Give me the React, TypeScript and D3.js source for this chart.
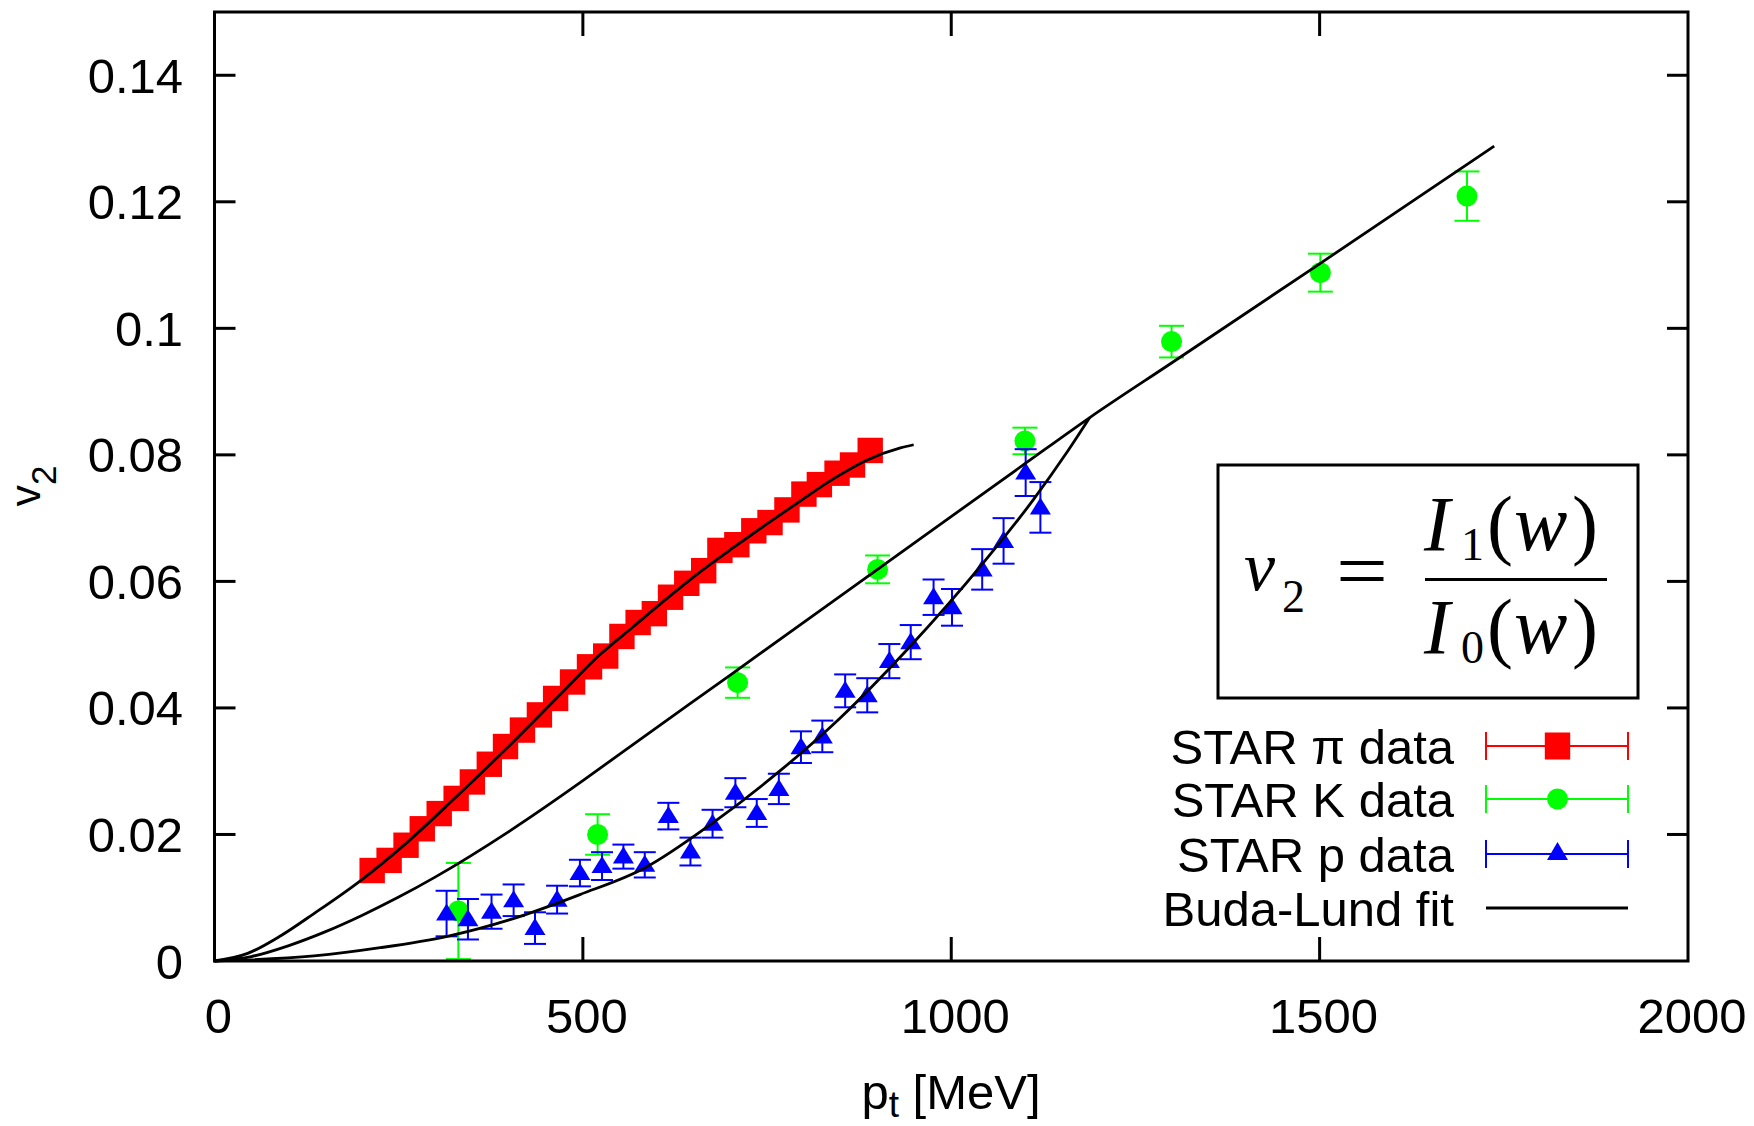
import React from "react";
import * as d3 from "d3";

// ---- data ----
const piPt = [214, 237, 260, 282, 305, 328, 350, 373, 395, 418, 441, 463, 486, 509, 531, 553, 575, 597, 619, 641, 664, 686, 709, 732, 754, 777, 800, 821, 845, 866, 890];
const piV = [0.0143, 0.0159, 0.0183, 0.0209, 0.0233, 0.0257, 0.0283, 0.0311, 0.0339, 0.0365, 0.0389, 0.0415, 0.0441, 0.0465, 0.0482, 0.0513, 0.0535, 0.0549, 0.0575, 0.0597, 0.0617, 0.0649, 0.0658, 0.068, 0.0693, 0.0713, 0.0738, 0.0753, 0.0771, 0.0784, 0.0807];

const kPt = [331, 520, 710, 900, 1100, 1299, 1501, 1700];
const kV = [0.0079, 0.02, 0.044, 0.0619, 0.0822, 0.0979, 0.1088, 0.1209];
const kErr = [0.0076, 0.0032, 0.0024, 0.0022, 0.0021, 0.0025, 0.003, 0.0039];

const pPt = [315, 344, 376, 406, 435, 465, 496, 526, 555, 584, 616, 646, 676, 707, 736, 766, 796, 825, 856, 886, 916, 945, 976, 1001, 1042, 1071, 1101, 1121];
const pV = [0.0075, 0.0066, 0.0078, 0.0096, 0.0052, 0.0097, 0.0139, 0.015, 0.0165, 0.0152, 0.0229, 0.0173, 0.0217, 0.0266, 0.0234, 0.0272, 0.0338, 0.0355, 0.0427, 0.042, 0.0474, 0.0504, 0.0575, 0.0559, 0.0619, 0.0664, 0.0772, 0.0717];
const pErr = [0.0036, 0.0032, 0.0027, 0.0025, 0.0025, 0.0022, 0.0021, 0.0022, 0.0019, 0.002, 0.0021, 0.0022, 0.0022, 0.0023, 0.0022, 0.0024, 0.0025, 0.0025, 0.0026, 0.0027, 0.0027, 0.0027, 0.0028, 0.0029, 0.0032, 0.0036, 0.0037, 0.004];

// Buda-Lund fit curves
const piFitPt = [0, 45, 90, 135, 197, 260, 325, 400, 470, 523, 568, 613, 658, 705, 750, 795, 840, 886, 931, 949];
const piFitV = [0, 0.0012, 0.004, 0.0075, 0.0126, 0.0186, 0.0256, 0.034, 0.0422, 0.0484, 0.0528, 0.0572, 0.0614, 0.0654, 0.0691, 0.0727, 0.0762, 0.0792, 0.0811, 0.0816];
const kFitPt = [0, 50, 100, 150, 200, 250, 300, 400, 500, 550, 700, 900, 1100, 1188, 1300, 1500, 1737];
const kFitV = [0, 0.0007, 0.0024, 0.0046, 0.0072, 0.0101, 0.0133, 0.0205, 0.0285, 0.0327, 0.0452, 0.0619, 0.0786, 0.0859, 0.0946, 0.1102, 0.1288];
const pFitPt = [0, 135, 225, 316, 400, 496, 584, 676, 767, 850, 940, 1044, 1112, 1157, 1188];
const pFitV = [0, 0.0008, 0.0021, 0.0039, 0.0065, 0.0105, 0.0147, 0.0218, 0.03, 0.0385, 0.0492, 0.063, 0.073, 0.0804, 0.0859];

const xTicks = [0, 500, 1000, 1500, 2000];
const yTicks = [0, 0.02, 0.04, 0.06, 0.08, 0.1, 0.12, 0.14];
const yTickLabels = ["0", "0.02", "0.04", "0.06", "0.08", "0.1", "0.12", "0.14"];
const legendLabels = ["STAR \u03c0 data", "STAR K data", "STAR p data", "Buda-Lund fit"];

const RED = "#ff0000";
const GREEN = "#00ff00";
const BLUE = "#0000ff";
const SANS = "'Liberation Sans', Arial, Helvetica, sans-serif";
const SERIF = "'Liberation Serif', 'Times New Roman', serif";

export default function App() {
  const L = 214.5, R = 1688, T = 12, B = 961;
  const x = d3.scaleLinear().domain([0, 2000]).range([L, R]);
  const y = d3.scaleLinear().domain([0, 0.15]).range([B, T]);
  const line = d3
    .line<[number, number]>()
    .x((d) => x(d[0]))
    .y((d) => y(d[1]))
    .curve(d3.curveMonotoneX);
  const zip = (a: number[], b: number[]) => a.map((v, i) => [v, b[i]] as [number, number]);

  const fs = 49;
  const tri = (cx: number, cy: number, w = 10.5, up = 10, down = 7) =>
    `M${cx},${cy - up} L${cx + w},${cy + down} L${cx - w},${cy + down} Z`;

  const legX1 = 1486, legX2 = 1628, legXm = 1557.5;
  const legRows = [746, 799, 854, 908];

  return (
    <svg width={1754} height={1126} style={{ position: "absolute", left: 0, top: 0, background: "#fff" }}>
      <rect x={0} y={0} width={1754} height={1126} fill="#fff" />

      {/* pion squares */}
      <g>
        {piPt.map((p, i) => (
          <rect key={i} x={x(p) - 12.7} y={y(piV[i]) - 12.7} width={25.4} height={25.4} fill={RED} />
        ))}
      </g>

      {/* kaon circles with error bars */}
      <g>
        {kPt.map((p, i) => {
          const cx = x(p);
          const y1 = y(kV[i] - kErr[i]);
          const y2 = y(kV[i] + kErr[i]);
          return (
            <g key={i}>
              <line x1={cx} x2={cx} y1={y1} y2={y2} stroke={GREEN} strokeWidth={2} />
              <line x1={cx - 12.5} x2={cx + 12.5} y1={y1} y2={y1} stroke={GREEN} strokeWidth={2} />
              <line x1={cx - 12.5} x2={cx + 12.5} y1={y2} y2={y2} stroke={GREEN} strokeWidth={2} />
              <circle cx={cx} cy={y(kV[i])} r={10.5} fill={GREEN} />
            </g>
          );
        })}
      </g>

      {/* proton triangles with error bars */}
      <g>
        {pPt.map((p, i) => {
          const cx = x(p);
          const y1 = y(pV[i] - pErr[i]);
          const y2 = y(pV[i] + pErr[i]);
          return (
            <g key={i}>
              <line x1={cx} x2={cx} y1={y1} y2={y2} stroke={BLUE} strokeWidth={2} />
              <line x1={cx - 11} x2={cx + 11} y1={y1} y2={y1} stroke={BLUE} strokeWidth={2} />
              <line x1={cx - 11} x2={cx + 11} y1={y2} y2={y2} stroke={BLUE} strokeWidth={2} />
              <path d={tri(cx, y(pV[i]))} fill={BLUE} />
            </g>
          );
        })}
      </g>

      {/* fit curves */}
      <g fill="none" stroke="#000" strokeWidth={2.8} strokeLinejoin="round">
        <path d={line(zip(piFitPt, piFitV)) || ""} />
        <path d={line(zip(kFitPt, kFitV)) || ""} />
        <path d={line(zip(pFitPt, pFitV)) || ""} />
      </g>

      {/* frame */}
      <rect x={L} y={T} width={R - L} height={B - T} fill="none" stroke="#000" strokeWidth={3} />

      {/* ticks */}
      <g stroke="#000" strokeWidth={3}>
        {yTicks.slice(1).map((t, i) => (
          <g key={i}>
            <line x1={L} x2={L + 21} y1={y(t)} y2={y(t)} />
            <line x1={R} x2={R - 21} y1={y(t)} y2={y(t)} />
          </g>
        ))}
        {xTicks.slice(1, -1).map((t, i) => (
          <g key={i}>
            <line x1={x(t)} x2={x(t)} y1={B} y2={B - 24} />
            <line x1={x(t)} x2={x(t)} y1={T} y2={T + 24} />
          </g>
        ))}
      </g>

      {/* tick labels */}
      <g fontFamily={SANS} fontSize={fs} fill="#000">
        {yTicks.map((t, i) => (
          <text key={i} x={183} y={y(t) + 17.5} textAnchor="end">
            {yTickLabels[i]}
          </text>
        ))}
        {xTicks.map((t, i) => (
          <text key={i} x={x(t) + 4} y={1033} textAnchor="middle">
            {String(t)}
          </text>
        ))}
      </g>

      {/* axis titles */}
      <text x={951} y={1109} textAnchor="middle" fontFamily={SANS} fontSize={fs} fill="#000">
        p<tspan fontSize={37} dy={8}>t</tspan>
        <tspan dy={-8}> [MeV]</tspan>
      </text>
      <text transform="translate(40,486) rotate(-90)" textAnchor="middle" fontFamily={SANS} fontSize={43} fill="#000">
        v<tspan fontSize={35} dy={16}>2</tspan>
      </text>

      {/* formula box */}
      <rect x={1218} y={465} width={420} height={233} fill="#fff" stroke="#000" strokeWidth={3} />
      <g fontFamily={SERIF} fill="#000">
        <text x={1244} y={590} fontSize={70} fontStyle="italic">v</text>
        <text x={1282} y={612} fontSize={46}>2</text>
        <text x={1336} y={598} fontSize={80} textLength={52} lengthAdjust="spacingAndGlyphs">=</text>
        <text x={1424} y={550} fontSize={78} fontStyle="italic">I</text>
        <text x={1461} y={560} fontSize={46}>1</text>
        <text x={1487} y={550} fontSize={78}>(</text>
        <text x={1514} y={550} fontSize={80} fontStyle="italic">w</text>
        <text x={1572} y={550} fontSize={78}>)</text>
        <text x={1424} y={653} fontSize={78} fontStyle="italic">I</text>
        <text x={1461} y={663} fontSize={46}>0</text>
        <text x={1487} y={653} fontSize={78}>(</text>
        <text x={1514} y={653} fontSize={80} fontStyle="italic">w</text>
        <text x={1572} y={653} fontSize={78}>)</text>
      </g>
      <line x1={1425} x2={1607} y1={579.5} y2={579.5} stroke="#000" strokeWidth={3} />

      {/* legend */}
      <g fontFamily={SANS} fontSize={fs} fill="#000">
        {legendLabels.map((lab, i) => (
          <text key={i} x={1454} y={legRows[i] + 17.5} textAnchor="end">
            {lab}
          </text>
        ))}
      </g>
      {[RED, GREEN, BLUE].map((c, i) => (
        <g key={i} stroke={c} strokeWidth={2}>
          <line x1={legX1} x2={legX2} y1={legRows[i]} y2={legRows[i]} />
          <line x1={legX1} x2={legX1} y1={legRows[i] - 14} y2={legRows[i] + 14} />
          <line x1={legX2} x2={legX2} y1={legRows[i] - 14} y2={legRows[i] + 14} />
        </g>
      ))}
      <rect x={legXm - 12.7} y={legRows[0] - 13.5} width={25.4} height={27} fill={RED} />
      <circle cx={legXm} cy={legRows[1]} r={10.5} fill={GREEN} />
      <path d={tri(legXm, legRows[2], 10.5, 12, 6)} fill={BLUE} />
      <line x1={legX1} x2={legX2} y1={legRows[3]} y2={legRows[3]} stroke="#000" strokeWidth={2.8} />
    </svg>
  );
}
